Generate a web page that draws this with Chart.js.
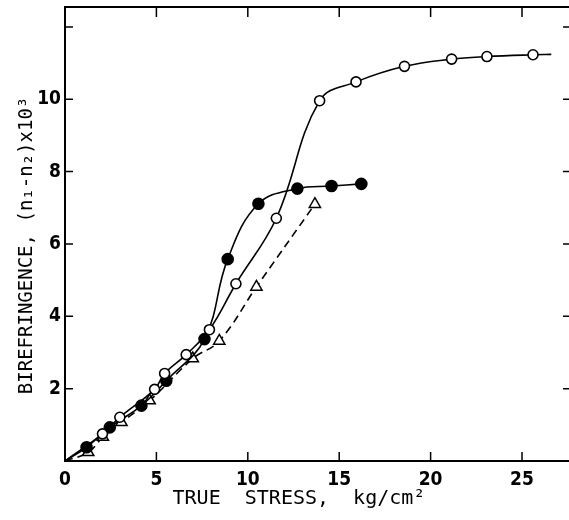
<!DOCTYPE html>
<html>
<head>
<meta charset="utf-8">
<script src="https://cdn.jsdelivr.net/npm/chart.js@4"></script>
<style>
  html, body { margin: 0; padding: 0; background: #fff; }
  #wrap { width: 569px; height: 520px; }
</style>
</head>
<body>
<div id="wrap"><canvas id="chart"></canvas></div>
<script>
// open circles, solid line (first/last point only anchor the curve)
const openX = [0, 2.05, 3.0, 4.9, 5.45, 6.63, 7.9, 9.35, 11.56, 13.93, 15.92, 18.57, 21.15, 23.08, 25.6, 26.6];
const openY = [0, 0.75, 1.21, 1.98, 2.42, 2.94, 3.63, 4.9, 6.71, 9.96, 10.48, 10.91, 11.11, 11.18, 11.23, 11.24];

// filled circles, solid line
const filledX = [0, 1.18, 2.45, 4.18, 5.54, 7.63, 8.9, 10.58, 12.71, 14.58, 16.21];
const filledY = [0, 0.38, 0.93, 1.53, 2.22, 3.37, 5.58, 7.11, 7.53, 7.6, 7.66];

// triangles, dashed line
const triX = [0, 1.27, 2.07, 3.09, 4.63, 6.99, 8.44, 10.47, 13.67];
const triY = [0, 0.24, 0.66, 1.07, 1.67, 2.83, 3.32, 4.81, 7.1];

const xTicks = [0, 5, 10, 15, 20, 25];
const yTicks = [2, 4, 6, 8, 10, 12];
const yLabels = [2, 4, 6, 8, 10];

const pts = (xs, ys) => xs.map((x, i) => ({ x: x, y: ys[i] }));
// hide marker on anchor points (origin and curve end)
const radii = (xs, r, hideLast) => xs.map((x, i) => (i === 0 || (hideLast && i === xs.length - 1)) ? 0 : r);

const tickFont = { family: 'DejaVu Sans Condensed', weight: 'bold', size: 19 };

// box on left/top/bottom, inward ticks on all four sides
const frameTicks = {
  id: 'frameTicks',
  afterDraw(chart) {
    const ctx = chart.ctx;
    const a = chart.chartArea;
    const xs = chart.scales.x, ys = chart.scales.y;
    ctx.save();
    ctx.strokeStyle = '#000';
    ctx.lineWidth = 2;
    ctx.beginPath();
    ctx.moveTo(a.right + 2, a.top); ctx.lineTo(a.left, a.top);
    ctx.lineTo(a.left, a.bottom); ctx.lineTo(a.right + 2, a.bottom);
    ctx.stroke();
    ctx.lineWidth = 1.5;
    ctx.beginPath();
    xTicks.forEach(v => {
      if (v === 0) return;
      const px = xs.getPixelForValue(v);
      ctx.moveTo(px, a.bottom); ctx.lineTo(px, a.bottom - 9);
      ctx.moveTo(px, a.top); ctx.lineTo(px, a.top + 10);
    });
    yTicks.forEach(v => {
      const py = ys.getPixelForValue(v);
      ctx.moveTo(a.left, py); ctx.lineTo(a.left + 8, py);
      ctx.moveTo(a.right, py); ctx.lineTo(a.right - 6, py);
    });
    ctx.stroke();
    ctx.restore();
  }
};

const noPad = s => { s.paddingTop = 0; s.paddingBottom = 0; s.paddingLeft = 0; s.paddingRight = 0; };

new Chart(document.getElementById('chart'), {
  type: 'scatter',
  data: {
    datasets: [
      {
        label: 'open',
        data: pts(openX, openY),
        showLine: true,
        borderColor: '#000',
        borderWidth: 1.6,
        backgroundColor: '#fff',
        pointBorderColor: '#000',
        pointBackgroundColor: '#fff',
        pointBorderWidth: 1.6,
        pointRadius: radii(openX, 5, true),
        tension: 0.4
      },
      {
        label: 'filled',
        data: pts(filledX, filledY),
        showLine: true,
        borderColor: '#000',
        borderWidth: 1.6,
        pointBorderColor: '#000',
        pointBackgroundColor: '#000',
        pointRadius: radii(filledX, 5.5, false),
        tension: 0.4
      },
      {
        label: 'triangle',
        data: pts(triX, triY),
        showLine: true,
        borderColor: '#000',
        borderWidth: 1.6,
        borderDash: [8, 5],
        pointStyle: 'triangle',
        pointBorderColor: '#000',
        pointBackgroundColor: '#fff',
        pointBorderWidth: 1.5,
        pointRadius: radii(triX, 6.5, false),
        tension: 0.4
      }
    ]
  },
  options: {
    responsive: true,
    maintainAspectRatio: false,
    animation: false,
    layout: { autoPadding: false, padding: { top: 7, right: 0, left: 0, bottom: 0 } },
    plugins: { legend: { display: false }, tooltip: { enabled: false } },
    scales: {
      x: {
        type: 'linear',
        min: 0,
        max: 27.57,
        grid: { display: false, drawTicks: false },
        border: { display: false },
        afterBuildTicks: s => { s.ticks = xTicks.map(v => ({ value: v })); },
        afterFit: s => { s.height = 59; noPad(s); },
        ticks: { color: '#000', font: tickFont, padding: 8, maxRotation: 0 },
        title: {
          display: true,
          text: 'TRUE  STRESS,  kg/cm²   ',
          color: '#000',
          font: { family: 'DejaVu Sans Mono', size: 20 },
          padding: { top: 0, bottom: 9 }
        }
      },
      y: {
        type: 'linear',
        min: 0,
        max: 12.55,
        grid: { display: false, drawTicks: false },
        border: { display: false },
        afterBuildTicks: s => { s.ticks = yLabels.map(v => ({ value: v })); },
        afterFit: s => { s.width = 65; noPad(s); },
        ticks: { color: '#000', font: tickFont, padding: 4 },
        title: {
          display: true,
          text: 'BIREFRINGENCE, (n₁-n₂)x10³  ',
          color: '#000',
          font: { family: 'DejaVu Sans Mono', size: 19 },
          padding: { top: 16, bottom: 0 }
        }
      }
    }
  },
  plugins: [frameTicks]
});
</script>
</body>
</html>
